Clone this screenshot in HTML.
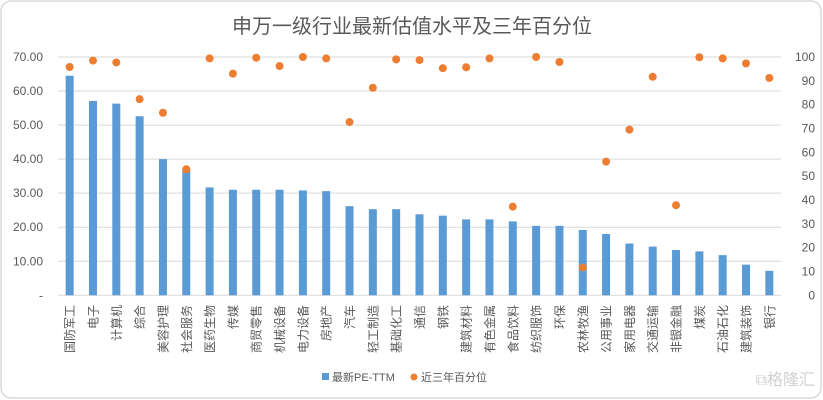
<!DOCTYPE html>
<html><head><meta charset="utf-8"><style>
html,body{margin:0;padding:0;background:#fff;}
svg{display:block;font-family:"Liberation Sans","Noto Sans CJK SC",sans-serif;}
</style></head><body>
<svg id="chart" width="823" height="400" viewBox="0 0 823 400" xmlns="http://www.w3.org/2000/svg">
<rect x="1" y="1" width="820" height="397" rx="10" fill="#fff" stroke="#d9d9d9" stroke-width="1.5"/>
<text x="412" y="33" text-anchor="middle" font-size="20" fill="#595959">申万一级行业最新估值水平及三年百分位</text>
<g id="grid"></g><g id="bars"></g><g id="dots"></g><g id="labels"></g>
<g>
<rect x="322" y="373" width="7" height="7" fill="#5b9bd5"/>
<text x="332" y="381" font-size="11" fill="#595959">最新PE-TTM</text>
<circle cx="414" cy="377" r="3.5" fill="#ed7d31"/>
<text x="421" y="381" font-size="11" fill="#595959">近三年百分位</text>
</g>
<text x="815" y="385" text-anchor="end" font-size="16" fill="#d0d0d0">⧉格隆汇</text>
</svg>
<script>
const categories=["国防军工","电子","计算机","综合","美容护理","社会服务","医药生物","传媒","商贸零售","机械设备","电力设备","房地产","汽车","轻工制造","基础化工","通信","钢铁","建筑材料","有色金属","食品饮料","纺织服饰","环保","农林牧渔","公用事业","家用电器","交通运输","非银金融","煤炭","石油石化","建筑装饰","银行"];
const peValues=[64.5,57.1,56.3,52.6,40.0,37.3,31.7,31.0,31.0,31.0,30.8,30.6,26.2,25.3,25.3,23.8,23.4,22.3,22.3,21.7,20.4,20.4,19.2,18.0,15.2,14.3,13.3,12.9,11.8,9.0,7.2];
const pctValues=[95.8,98.5,97.7,82.3,76.6,52.9,99.4,93.0,99.7,96.2,100,99.4,72.7,87.1,99.0,98.7,95.3,95.7,99.4,37.2,100,97.9,11.7,56.1,69.5,91.7,37.8,99.9,99.4,97.3,91.2];
const leftTicks=[0,10,20,30,40,50,60,70];
const rightTicks=[0,10,20,30,40,50,60,70,80,90,100];
const NS="http://www.w3.org/2000/svg";
const X0=58,X1=781,Y0=295.3,Y1=57;
const step=(X1-X0)/categories.length;
const xc=i=>X0+step*(i+0.5);
const yL=v=>Y0-(v/70)*(Y0-Y1);
const yR=v=>Y0-(v/100)*(Y0-Y1);
function mk(tag,attrs,parent,txt){const e=document.createElementNS(NS,tag);for(const k in attrs)e.setAttribute(k,attrs[k]);if(txt!==undefined)e.textContent=txt;document.getElementById(parent).appendChild(e);return e;}
leftTicks.forEach(t=>{
  const l=mk('line',{x1:X0,x2:X1,y1:yL(t),y2:yL(t),stroke:'#d9d9d9','stroke-width':1},'grid');
  
  
  const tx=mk('text',{x:43,y:yL(t)+4,'text-anchor':'end','font-size':12,fill:'#595959'},'grid',t===0?'-':t.toFixed(2));
  
  
});
rightTicks.forEach(t=>{
  const tx=mk('text',{x:815,y:yR(t)+4,'text-anchor':'end','font-size':12,fill:'#595959'},'grid',String(t));
  
  
});
const bw=8;
categories.forEach((c,i)=>{
  const b=mk('rect',{x:xc(i)-bw/2,y:yL(peValues[i]),width:bw,height:Y0-yL(peValues[i]),fill:'#5b9bd5'},'bars');
  
  
  const d=mk('circle',{cx:xc(i),cy:yR(pctValues[i]),r:4,fill:'#ed7d31'},'dots');
  
  
  const t=mk('text',{x:0,y:0,'text-anchor':'end','font-size':12,fill:'#595959',transform:`translate(${xc(i)+4.5},305) rotate(-90)`},'labels',c);
  
  
});
</script>
</body></html>
